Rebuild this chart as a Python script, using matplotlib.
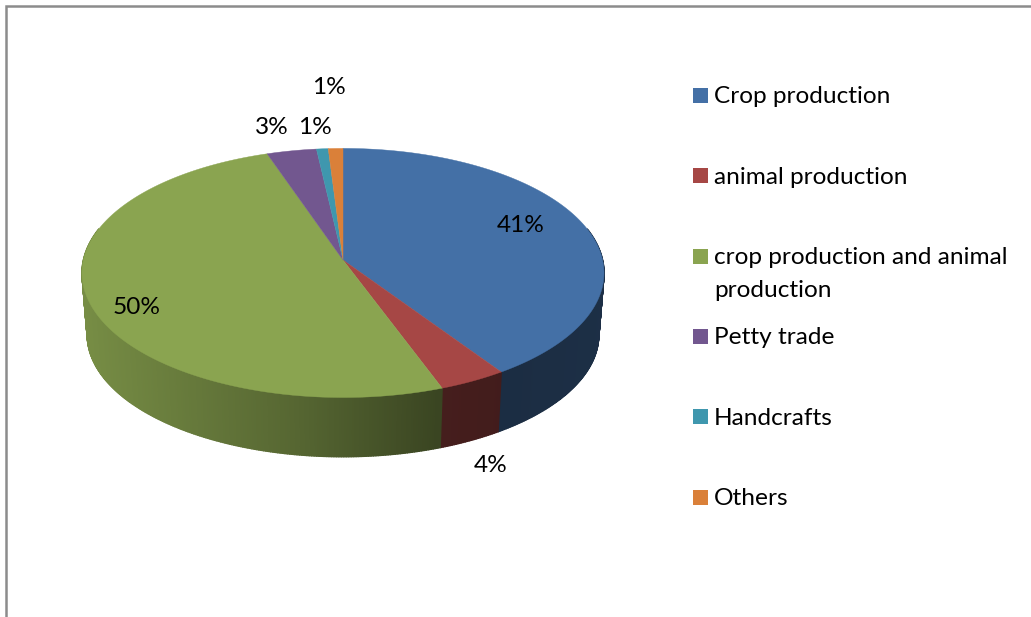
import numpy as np
import matplotlib
matplotlib.use("Agg")
import matplotlib.pyplot as plt
from matplotlib.collections import PolyCollection
from matplotlib.colors import to_rgb

categories = ["Crop production", "animal production",
              "crop production and animal\nproduction", "Petty trade", "Handcrafts", "Others"]
values = [40.6, 3.8, 50.4, 3.4, 0.8, 1.0]
value_labels = ["41%", "4%", "50%", "3%", "1%", "1%"]
colors = ["#4470A6", "#A64745", "#8AA450", "#72578F", "#3F97AE", "#DA8039"]

label_xy = [(521, 225), (491, 466), (137, 308), (272, 128), (315, 128), (329, 88)]
legend_y = [88, 168, 249, 329, 409, 490]
legend_base = [103, 184, 264, 344, 425, 505]

W, H = 1031, 617
plt.rcParams['font.family'] = ['Lato', 'DejaVu Sans']
fig = plt.figure(figsize=(W / 100, H / 100), dpi=100)
ax = fig.add_axes([0, 0, 1, 1])
ax.set_xlim(0, W)
ax.set_ylim(H, 0)
ax.axis("off")

CX, CY, RX, RY, K, DEPTH, SHRINK = 343, 260, 259.6, 123.2, 0.104, 62, 0.98


def top(theta):
    """Project clockwise-from-north angles on the tilted disc."""
    s, c = np.sin(theta), np.cos(theta)
    d = 1 + K * c
    return RX * s / d, -RY * c / d


def side_shade(x):
    return np.interp(x, [82, 300, 440, 500, 604], [0.86, 0.62, 0.42, 0.40, 0.42])


edges = np.cumsum([0] + values) / sum(values) * 2 * np.pi

# rim: strips overlap their neighbours so no seams show through
polys, polycolors = [], []
for i, col in enumerate(colors):
    lo, hi = max(edges[i], np.radians(75)), min(edges[i + 1], np.radians(285))
    if hi <= lo:
        continue
    base = np.array(to_rgb(col))
    grid = np.append(np.arange(lo, hi, np.radians(0.5)), hi)
    for a, b in zip(grid[:-1], grid[1:]):
        xa, ya = top(a)
        xb, yb = top(b)
        polys.append([(CX + xa, CY + ya), (CX + xb, CY + yb),
                      (CX + xb * SHRINK, CY + yb * SHRINK + DEPTH),
                      (CX + xa * SHRINK, CY + ya * SHRINK + DEPTH)])
        polycolors.append(tuple(base * side_shade(CX + xa)))
ax.add_collection(PolyCollection(polys, facecolors=polycolors, edgecolors=polycolors,
                                 linewidths=1.0, zorder=2))

# top face
for i, col in enumerate(colors):
    t = np.linspace(edges[i], edges[i + 1], max(int(values[i] * 8), 8))
    x, y = top(t)
    ax.fill(np.r_[CX, CX + x], np.r_[CY, CY + y], color=col, lw=0.3, zorder=3)

# value labels
for (x, y), s in zip(label_xy, value_labels):
    ax.text(x, y, s, ha="center", va="center", fontsize=17.6, color="black", zorder=5)

# legend
for y, base_y, name, col in zip(legend_y, legend_base, categories, colors):
    ax.add_patch(plt.Rectangle((693, y), 15, 15, fc=col, ec="none", zorder=4))
    lines = name.split("\n")
    for j, line in enumerate(lines):
        ax.text(714, base_y + 33 * j, line, ha="left", va="baseline",
                fontsize=17.6, color="black", zorder=5)

# chart frame
ax.plot([6, 6, W], [H, 6, 6], color="#8c8c8c", lw=1.8, solid_joinstyle="miter", zorder=1)

fig.savefig("out.png", dpi=100, facecolor="white")
